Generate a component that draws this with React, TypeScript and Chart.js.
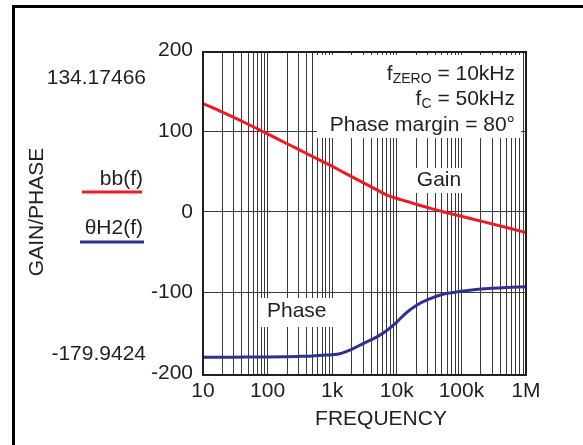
import React, { useEffect, useRef } from "react";
import { Chart, registerables } from "chart.js";
Chart.register(...registerables);

// Frequencies (Hz)
const freqs = [10, 20, 50, 100, 200, 300, 500, 700, 1000, 1300, 2000, 3000, 5000, 7000, 10000, 14000, 20000, 30000, 50000, 70000, 100000, 200000, 500000, 1000000];
// Gain curve bb(f)
const gain = [134.17466, 123.5, 108.5, 96.5, 84.4, 77.4, 68.4, 62.6, 56.4, 51.6, 43.7, 36.3, 26.9, 20.9, 16.6, 13.2, 9.4, 5.4, 0.5, -2.4, -5.4, -11.4, -19.4, -25.6];
// Phase curve θH2(f)
const phase = [-179.9424, -179.9, -179.8, -179.6, -179.3, -179, -178.4, -177.6, -176.8, -175.7, -170.2, -163.1, -154.5, -146.8, -136.4, -125, -115.9, -108.8, -102.3, -100.1, -98.2, -95.5, -93.6, -92.8];

const xMajorTicks = [10, 100, 1000, 10000, 100000, 1000000];
const xMajorLabels = ["10", "100", "1k", "10k", "100k", "1M"];
const yTicks = [-200, -100, 0, 100, 200];

const FONT = '"Liberation Sans", Arial, Helvetica, sans-serif';
const TEXT = "#231f20";
const RED = "#ed1c24";
const BLUE = "#2e3192";
const GRID = "#3a3a3a";

function drawSubText(ctx: CanvasRenderingContext2D, main: string, sub: string, rest: string, right: number, baseline: number) {
  ctx.textAlign = "left";
  ctx.textBaseline = "alphabetic";
  ctx.font = `21px ${FONT}`;
  const wMain = ctx.measureText(main).width;
  const wRest = ctx.measureText(rest).width;
  ctx.font = `14px ${FONT}`;
  const wSub = ctx.measureText(sub).width;
  let x = right - wRest - wSub - wMain;
  ctx.font = `21px ${FONT}`;
  ctx.fillText(main, x, baseline);
  x += wMain;
  ctx.font = `14px ${FONT}`;
  ctx.fillText(sub, x, baseline + 3);
  x += wSub;
  ctx.font = `21px ${FONT}`;
  ctx.fillText(rest, x, baseline);
}

const deco = {
  id: "deco",
  beforeDatasetsDraw(chart: any) {
    const ctx = chart.ctx as CanvasRenderingContext2D;
    ctx.save();
    ctx.fillStyle = "#ffffff";
    ctx.fillRect(317, 55, 204, 83);
    ctx.fillRect(412, 168, 53, 25);
    ctx.fillRect(260, 298, 75, 29);
    ctx.restore();
  },
  afterDraw(chart: any) {
    const ctx = chart.ctx as CanvasRenderingContext2D;
    const a = chart.chartArea;
    ctx.save();
    // plot frame
    ctx.strokeStyle = TEXT;
    ctx.lineWidth = 2;
    ctx.strokeRect(a.left, a.top, a.right - a.left, a.bottom - a.top);
    // figure frame (top + left)
    ctx.fillStyle = "#000";
    ctx.fillRect(12, 5, 571, 3);
    ctx.fillRect(12, 5, 3, 440);

    ctx.fillStyle = TEXT;
    ctx.font = `21px ${FONT}`;
    ctx.textAlign = "right";
    ctx.textBaseline = "middle";
    ctx.fillText("134.17466", 146, 78);
    ctx.fillText("-179.9424", 146, 354);
    ctx.fillText("bb(f)", 143, 179);
    ctx.fillText("θH2(f)", 143, 228);

    ctx.lineWidth = 3;
    ctx.strokeStyle = RED;
    ctx.beginPath();
    ctx.moveTo(82, 192);
    ctx.lineTo(142, 192);
    ctx.stroke();
    ctx.strokeStyle = BLUE;
    ctx.beginPath();
    ctx.moveTo(80, 242);
    ctx.lineTo(144, 242);
    ctx.stroke();

    ctx.textAlign = "center";
    ctx.fillText("FREQUENCY", 381, 419);
    ctx.fillText("Gain", 439, 180);
    ctx.textAlign = "left";
    ctx.fillText("Phase", 267, 311);

    ctx.save();
    ctx.translate(37, 212);
    ctx.rotate(-Math.PI / 2);
    ctx.textAlign = "center";
    ctx.fillText("GAIN/PHASE", 0, 0);
    ctx.restore();

    drawSubText(ctx, "f", "ZERO", " = 10kHz", 515, 80);
    drawSubText(ctx, "f", "C", " = 50kHz", 515, 105);
    ctx.textAlign = "right";
    ctx.textBaseline = "alphabetic";
    ctx.font = `21px ${FONT}`;
    ctx.fillText("Phase margin = 80°", 515, 131);
    ctx.restore();
  },
};

export default function App() {
  const ref = useRef<HTMLCanvasElement | null>(null);
  useEffect(() => {
    if (!ref.current) return;
    const chart = new Chart(ref.current, {
      type: "line",
      data: {
        datasets: [
          {
            label: "bb(f)",
            data: freqs.map((f, i) => ({ x: f, y: gain[i] })),
            borderColor: RED,
            borderWidth: 3,
            pointRadius: 0,
            cubicInterpolationMode: "monotone",
            fill: false,
          },
          {
            label: "θH2(f)",
            data: freqs.map((f, i) => ({ x: f, y: phase[i] })),
            borderColor: BLUE,
            borderWidth: 3,
            pointRadius: 0,
            cubicInterpolationMode: "monotone",
            fill: false,
          },
        ],
      },
      options: {
        animation: false,
        responsive: false,
        maintainAspectRatio: false,
        layout: { padding: { left: 0, right: 57, top: 52, bottom: 0 } },
        plugins: { legend: { display: false }, tooltip: { enabled: false } },
        scales: {
          x: {
            type: "logarithmic",
            min: 10,
            max: 1000000,
            afterBuildTicks: (s: any) => {
              const t: any[] = [];
              for (let d = 10; d < 1000000; d *= 10) {
                for (let m = 1; m <= 9; m++) t.push({ value: d * m });
              }
              t.push({ value: 1000000 });
              s.ticks = t;
            },
            afterFit: (s: any) => {
              s.height = 70;
            },
            grid: { color: GRID, lineWidth: 1, drawTicks: false, tickLength: 0 },
            border: { display: false },
            ticks: {
              autoSkip: false,
              maxRotation: 0,
              padding: 4,
              color: TEXT,
              font: { size: 21, family: FONT },
              callback: (v: any) => {
                const idx = xMajorTicks.indexOf(Number(v));
                return idx >= 0 ? xMajorLabels[idx] : "";
              },
            },
          },
          y: {
            type: "linear",
            min: -202,
            max: 198,
            afterBuildTicks: (s: any) => {
              s.ticks = yTicks.map((v) => ({ value: v }));
            },
            afterFit: (s: any) => {
              s.width = 203;
            },
            grid: {
              color: (c: any) => (c.tick && Math.abs(c.tick.value) === 200 ? "rgba(0,0,0,0)" : GRID),
              lineWidth: 1,
              drawTicks: false,
              tickLength: 0,
            },
            border: { display: false },
            ticks: {
              padding: 10,
              color: TEXT,
              font: { size: 21, family: FONT },
            },
          },
        },
      },
      plugins: [deco],
    } as any);
    return () => chart.destroy();
  }, []);
  return (
    <div style={{ position: "absolute", left: 0, top: 0, width: 583, height: 445, background: "#fff" }}>
      <canvas ref={ref} width={583} height={445} />
    </div>
  );
}
